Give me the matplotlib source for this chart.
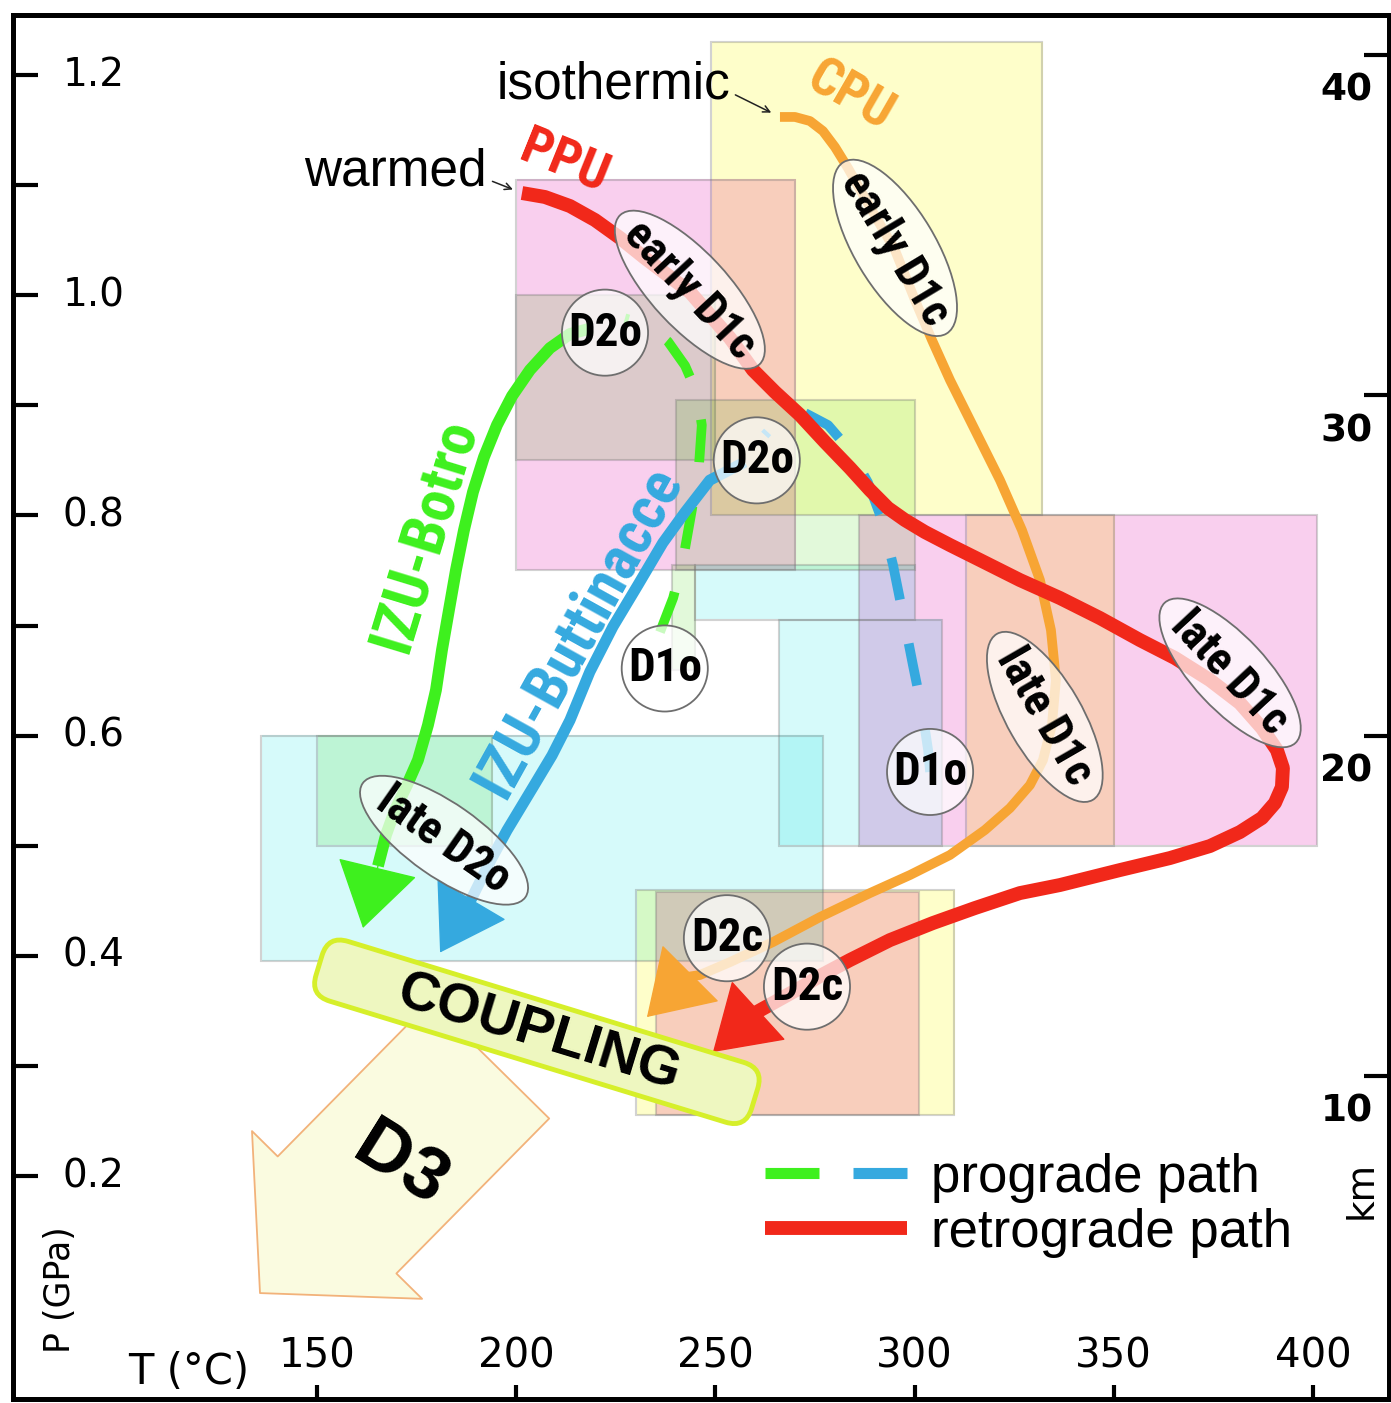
import numpy as np
import matplotlib
matplotlib.use("Agg")
import matplotlib.pyplot as plt
import matplotlib.transforms as mtransforms
from matplotlib import font_manager
from matplotlib.patches import Rectangle, Ellipse, FancyArrowPatch, FancyBboxPatch, ArrowStyle
from matplotlib.lines import Line2D
from matplotlib.legend_handler import HandlerTuple

# P-T estimate boxes (T in deg C, P in GPa)
box_unit = ['CPU', 'PPU', 'Botro', 'Botro', 'Botro', 'Buttinacce', 'Buttinacce', 'PPU', 'CPU',
            'Buttinacce', 'Botro', 'CPU', 'PPU']
box_tmin = [249, 200, 200, 240, 239, 245, 266, 286, 313, 136, 150, 230, 235]
box_tmax = [332, 270, 250, 300, 245, 300, 307, 401, 350, 277, 194, 310, 301]
box_pmin = [0.80, 0.75, 0.85, 0.75, 0.66, 0.705, 0.50, 0.50, 0.50, 0.395, 0.50, 0.255, 0.255]
box_pmax = [1.23, 1.105, 1.00, 0.905, 0.755, 0.755, 0.705, 0.80, 0.80, 0.60, 0.60, 0.46, 0.458]

# PPU retrograde path (last point = arrow tip)
ppu_t = [201.46, 207.23, 213.50, 219.78, 226.06, 232.33, 243.63, 253.67, 259.44, 264.96, 271.24,
         277.51, 283.79, 288.81, 293.32, 297.59, 302.61, 308.89, 316.42, 326.45, 336.49, 346.53,
         356.57, 365.36, 374.14, 381.67, 387.20, 390.96, 392.47, 392.22, 390.46, 387.20, 381.67,
         374.14, 364.10, 351.55, 336.49, 326.45, 315.16, 304.62, 293.82, 283.79, 276.26, 271.24,
         260.44, 249.40]
ppu_p = [1.0928, 1.0892, 1.0810, 1.0683, 1.0520, 1.0338, 1.0029, 0.9611, 0.9321, 0.9121, 0.8912,
         0.8667, 0.8431, 0.8231, 0.8067, 0.7958, 0.7849, 0.7731, 0.7595, 0.7413, 0.7250, 0.7068,
         0.6868, 0.6705, 0.6505, 0.6296, 0.6069, 0.5869, 0.5706, 0.5533, 0.5388, 0.5252, 0.5124,
         0.4997, 0.4888, 0.4779, 0.4643, 0.4570, 0.4434, 0.4298, 0.4143, 0.3962, 0.3817, 0.3708,
         0.3490, 0.3126]

# CPU retrograde path
cpu_t = [266.22, 269.98, 273.75, 277.01, 280.02, 283.28, 288.81, 295.08, 300.10, 304.37, 308.89,
         315.16, 321.44, 326.96, 331.48, 334.24, 335.49, 334.49, 332.23, 328.97, 323.95, 317.67,
         308.89, 298.85, 288.81, 276.26, 264.46, 253.67, 246.13, 242.87, 232.83]
cpu_p = [1.1619, 1.1619, 1.1582, 1.1491, 1.1346, 1.1155, 1.0801, 1.0411, 0.9956, 0.9593, 0.9230,
         0.8776, 0.8321, 0.7867, 0.7413, 0.6959, 0.6505, 0.6096, 0.5778, 0.5551, 0.5342, 0.5143,
         0.4916, 0.4734, 0.4570, 0.4352, 0.4125, 0.3943, 0.3826, 0.3808, 0.3444]

# IZU-Botro: prograde D1o -> D2o, then retrograde
botro_pro_t = [236.1, 239.4, 241.9, 244.1, 245.9, 246.6, 245.4, 242.4, 238.1, 233.1, 227.3]
botro_pro_p = [0.694, 0.725, 0.760, 0.805, 0.846, 0.882, 0.911, 0.936, 0.958, 0.973, 0.979]
botro_ret_t = [219.03, 213.50, 208.48, 203.46, 198.95, 195.18, 191.92, 189.16, 186.90, 184.89,
               183.13, 181.38, 179.87, 177.86, 175.35, 172.59, 169.58, 167.32, 165.31, 161.55]
botro_ret_p = [0.9702, 0.9648, 0.9520, 0.9321, 0.9084, 0.8821, 0.8530, 0.8213, 0.7867, 0.7504,
               0.7141, 0.6778, 0.6414, 0.6096, 0.5778, 0.5551, 0.5324, 0.5097, 0.4816, 0.4253]

# IZU-Buttinacce: prograde D1o -> D2o, then retrograde
butt_pro_t = [303.9, 303.4, 301.9, 299.6, 297.1, 294.6, 291.8, 288.3, 283.8, 278.3, 272.0, 266.2, 262.4]
butt_pro_p = [0.567, 0.587, 0.623, 0.664, 0.710, 0.755, 0.796, 0.830, 0.859, 0.882, 0.894, 0.888, 0.873]
butt_ret_t = [257.4, 248.6, 242.4, 236.8, 230.6, 224.3, 218.5, 213.5, 209.0, 204.2, 197.7, 192.9,
              188.4, 180.9]
butt_ret_p = [0.8485, 0.832, 0.803, 0.775, 0.737, 0.699, 0.658, 0.614, 0.582, 0.553, 0.514, 0.482,
              0.449, 0.403]

# stage labels along the paths
stage_text = ['D2o', 'D2o', 'D1o', 'D1o', 'D2c', 'D2c',
              'early D1c', 'early D1c', 'late D1c', 'late D1c', 'late D2o']
stage_t = [222.3, 260.4, 237.3, 303.9, 252.9, 273.0, 243.6, 295.1, 332.7, 379.2, 181.9]
stage_p = [0.966, 0.850, 0.661, 0.567, 0.416, 0.372, 1.005, 1.043, 0.617, 0.657, 0.505]

t_ticks = [150, 200, 250, 300, 350, 400]
p_ticks = [0.2, 0.3, 0.4, 0.5, 0.6, 0.7, 0.8, 0.9, 1.0, 1.1, 1.2]
p_labels = [0.2, 0.4, 0.6, 0.8, 1.0, 1.2]
km_ticks = [10, 20, 30, 40]

# depth scale
KM_PER_GPA = 32.35
P_SURFACE = -0.0183

RED = '#f1281a'
ORANGE = '#f7a534'
GREEN = '#3ef01e'
BLUE = '#35a9df'
# box tints, combined multiplicatively where boxes overlap
box_colors = {'PPU': (249, 207, 238), 'Botro': (226, 249, 218),
              'Buttinacce': (214, 250, 250), 'CPU': (254, 254, 202)}

available = {f.name for f in font_manager.fontManager.ttflist}
NARROW = next((f for f in ['Liberation Sans Narrow', 'DejaVu Sans Condensed', 'Roboto Condensed']
               if f in available), 'DejaVu Sans')
SANS = 'Liberation Sans' if 'Liberation Sans' in available else 'DejaVu Sans'
nscale = 1.0 if NARROW != 'DejaVu Sans' else 0.78
plt.rcParams['font.family'] = [SANS, 'DejaVu Sans']

fig = plt.figure(figsize=(13.91, 14.03), dpi=100)
ax = fig.add_axes([0.00935, 0.00285, 0.98922, 0.98646])
T_LIM = (73.7, 419.1)
P_LIM = (-0.0025, 1.2545)

# boxes rendered as one multiplied tint layer
tt = np.linspace(T_LIM[0], T_LIM[1], 1400)
pp = np.linspace(P_LIM[0], P_LIM[1], 1300)
TT, PP = np.meshgrid(tt, pp)
layer = np.ones(TT.shape + (3,))
for u, t0, t1, p0, p1 in zip(box_unit, box_tmin, box_tmax, box_pmin, box_pmax):
    inside = (TT >= t0) & (TT <= t1) & (PP >= p0) & (PP <= p1)
    layer[inside] *= np.array(box_colors[u]) / 255.0
ax.imshow(layer, extent=(T_LIM[0], T_LIM[1], P_LIM[0], P_LIM[1]), origin='lower',
          aspect='auto', interpolation='nearest', zorder=0.5)
for t0, t1, p0, p1 in zip(box_tmin, box_tmax, box_pmin, box_pmax):
    ax.add_patch(Rectangle((t0, p0), t1 - t0, p1 - p0, fc='none',
                           ec=(0.45, 0.45, 0.45, 0.32), lw=1.5, zorder=1))

ax.set_xlim(*T_LIM)
ax.set_ylim(*P_LIM)

for s in ax.spines.values():
    s.set_linewidth(3.5)
ax.set_xticks(t_ticks)
ax.set_yticks(p_ticks)
ax.tick_params(axis='x', direction='in', length=10, width=3, labelbottom=False)
ax.tick_params(axis='y', direction='in', length=18, width=3, labelleft=False)

xlab = mtransforms.blended_transform_factory(ax.transData, ax.transAxes)
ylab = mtransforms.blended_transform_factory(ax.transAxes, ax.transData)
for t in t_ticks:
    ax.text(t, 0.031, str(t), transform=xlab, ha='center', va='center', fontsize=29,
            family='DejaVu Sans')
for p in p_labels:
    ax.text(0.036, p, f'{p:.1f}', transform=ylab, ha='left', va='center', fontsize=28,
            family='DejaVu Sans')
ax.text(0.128, 0.0195, 'T (°C)', transform=ax.transAxes, ha='center', va='center',
        fontsize=30, family='DejaVu Sans')
ax.text(0.034, 0.079, 'P (GPa)', transform=ax.transAxes, rotation=90, ha='center',
        va='center', fontsize=25, family='DejaVu Sans')

# depth axis on the right
ax2 = ax.twinx()
ax2.set_ylim([(p - P_SURFACE) * KM_PER_GPA for p in P_LIM])
ax2.set_yticks(km_ticks)
ax2.tick_params(axis='y', direction='in', length=18, width=3, labelright=False)
for s in ax2.spines.values():
    s.set_linewidth(3.5)
klab = mtransforms.blended_transform_factory(ax2.transAxes, ax2.transData)
for k in km_ticks:
    ax2.text(0.988, k - 1.05, str(k), transform=klab, ha='right', va='center',
             fontsize=27, fontweight='bold', family='DejaVu Sans')
ax2.text(0.980, 0.151, 'km', transform=ax2.transAxes, rotation=90, ha='center',
         va='center', fontsize=27, family='DejaVu Sans')


def point_frame(t, p):
    # local frame in points centred on a data location
    return (mtransforms.Affine2D().scale(1 / 72) + fig.dpi_scale_trans
            + mtransforms.ScaledTranslation(t, p, ax.transData))


def draw_head(t, p, color):
    ax.annotate('', xy=(t[-1], p[-1]), xytext=(t[-2], p[-2]),
                arrowprops=dict(arrowstyle='-|>,head_length=4.3,head_width=2.75',
                                mutation_scale=10, fc=color, ec=color, lw=1,
                                shrinkA=0, shrinkB=0), zorder=4)


dash = (0, (4.4, 4.6))
ax.plot(botro_pro_t, botro_pro_p, color=GREEN, lw=7, ls=dash, dash_capstyle='butt', zorder=3)
ax.plot(butt_pro_t, butt_pro_p, color=BLUE, lw=7, ls=dash, dash_capstyle='butt', zorder=3)

ax.plot(botro_ret_t[:-1], botro_ret_p[:-1], color=GREEN, lw=8.5, solid_capstyle='butt',
        solid_joinstyle='round', zorder=3)
draw_head(botro_ret_t, botro_ret_p, GREEN)
ax.plot(butt_ret_t[:-1], butt_ret_p[:-1], color=BLUE, lw=8, solid_capstyle='butt',
        solid_joinstyle='round', zorder=3)
draw_head(butt_ret_t, butt_ret_p, BLUE)
ax.plot(cpu_t[:-1], cpu_p[:-1], color=ORANGE, lw=7, solid_capstyle='butt',
        solid_joinstyle='round', zorder=3.2)
draw_head(cpu_t, cpu_p, ORANGE)
ax.plot(ppu_t[:-1], ppu_p[:-1], color=RED, lw=10, solid_capstyle='butt',
        solid_joinstyle='round', zorder=3.4)
draw_head(ppu_t, ppu_p, RED)

# stage bubbles
bubble_angle = [0, 0, 0, 0, 0, 0, -47, -59, -60, -47, -35]
bubble_w = [62, 62, 62, 62, 62, 62, 147, 144, 138, 138, 143]
bubble_h = [62, 62, 62, 62, 62, 62, 55, 58, 54, 53, 53]
for s, t, p, a, w, h in zip(stage_text, stage_t, stage_p, bubble_angle, bubble_w, bubble_h):
    ax.add_patch(Ellipse((0, 0), w, h, angle=a, transform=point_frame(t, p),
                         fc=(1, 1, 1, 0.72), ec='#6e6e6e', lw=1.3, zorder=6))
    ax.text(t, p, s, rotation=a, rotation_mode='anchor', ha='center', va='center',
            fontsize=(34 if len(s) < 4 else 33) * nscale, fontweight='bold',
            family=[NARROW, 'DejaVu Sans'], fontstretch='condensed', zorder=7)

# unit names
unit_kw = dict(rotation_mode='anchor', ha='center', va='center', fontweight='bold',
               family=[NARROW, 'DejaVu Sans'], fontstretch='condensed', zorder=7)
ax.text(212.2, 1.121, 'PPU', color=RED, rotation=-22, fontsize=38 * nscale, **unit_kw)
ax.text(283.8, 1.180, 'CPU', color=ORANGE, rotation=-30, fontsize=38 * nscale, **unit_kw)
ax.text(177.1, 0.782, 'IZU-Botro', color=GREEN, rotation=73, fontsize=44 * nscale, **unit_kw)
ax.text(215.5, 0.694, 'IZU-Buttinacce', color=BLUE, rotation=61, fontsize=44 * nscale, **unit_kw)

ann_arrow = dict(arrowstyle='->', lw=1.1, color='#222222', mutation_scale=12,
                 shrinkA=2, shrinkB=7, relpos=(1.0, 0.35))
ax.annotate('warmed', xy=(ppu_t[0], ppu_p[0]), xytext=(192.7, 1.112), ha='right',
            va='center', fontsize=37, arrowprops=ann_arrow, zorder=7)
ax.annotate('isothermic', xy=(cpu_t[0], cpu_p[0]), xytext=(253.7, 1.191), ha='right',
            va='center', fontsize=37, arrowprops=ann_arrow, zorder=7)

# D3 arrow and coupling band
ax.add_patch(FancyArrowPatch((193.4, 0.3054), (135.7, 0.0937),
                             arrowstyle=ArrowStyle.Simple(head_length=7.9, head_width=17.2,
                                                          tail_width=12.0),
                             mutation_scale=10, fc='#fafbe0', ec='#f2b27a', lw=1.3,
                             shrinkA=0, shrinkB=0, zorder=5))
ax.text(170.8, 0.210, 'D3', rotation=-32, rotation_mode='anchor', ha='center', va='center',
        fontsize=54, fontweight='bold', zorder=8)

band = FancyBboxPatch((-164, -22.5), 328, 45, boxstyle='round,pad=0,rounding_size=15',
                      fc='#eef7c0', ec='#d6ef2a', lw=3.5, zorder=8,
                      transform=mtransforms.Affine2D().rotate_deg(-17) + point_frame(205.2, 0.331))
ax.add_patch(band)
ax.text(205.8, 0.329, 'COUPLING', rotation=-17, rotation_mode='anchor', ha='center',
        va='center', fontsize=40, fontweight='bold', zorder=9)

# legend
h_pro = (Line2D([], [], color=GREEN, lw=8, solid_capstyle='butt'),
         Line2D([], [], color=BLUE, lw=8, solid_capstyle='butt'))
h_ret = Line2D([], [], color=RED, lw=10, solid_capstyle='butt')
leg = ax.legend([h_pro, h_ret], ['prograde path', 'retrograde path'],
                handler_map={tuple: HandlerTuple(ndivide=None, pad=0.65)},
                loc='upper left', bbox_to_anchor=(0.5465, 0.178), frameon=False, fontsize=38,
                handlelength=2.7, handletextpad=0.45, labelspacing=0.1, borderpad=0,
                borderaxespad=0)
leg.set_zorder(10)

fig.savefig('out.png', dpi=100)
